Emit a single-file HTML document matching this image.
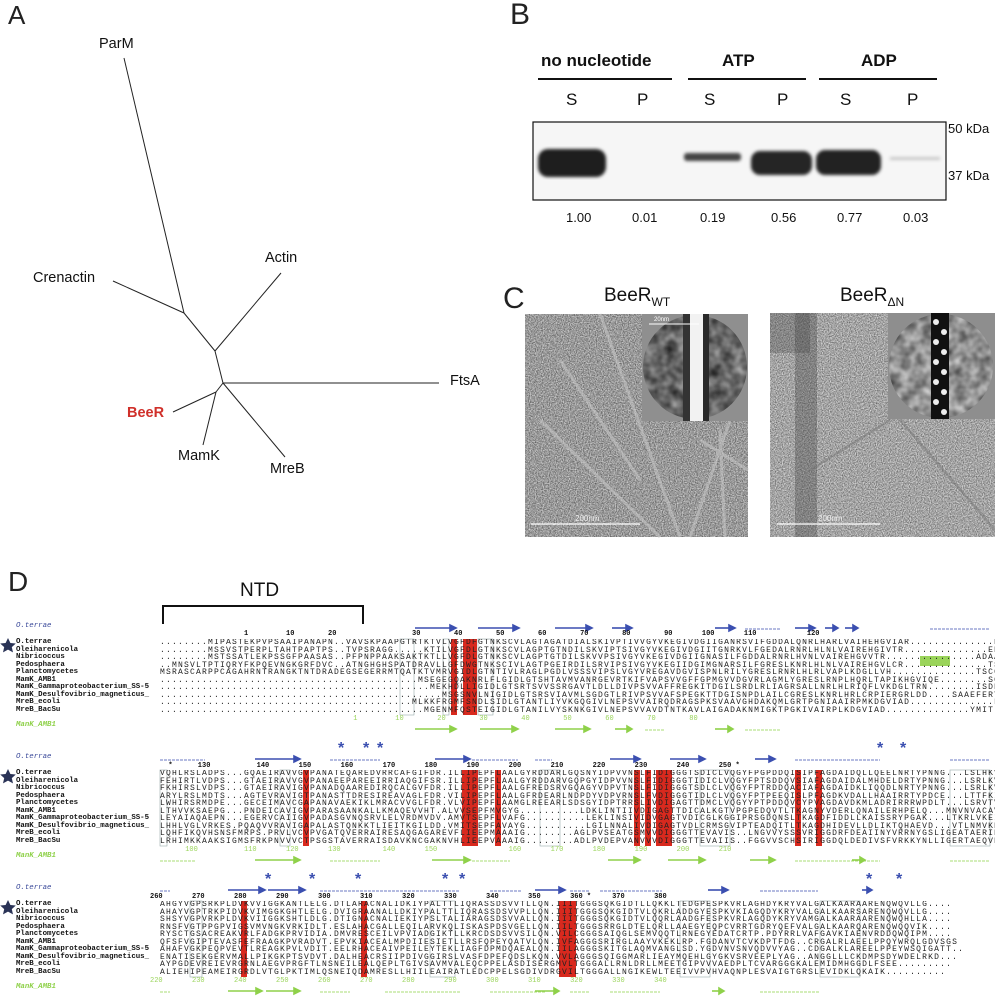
<!DOCTYPE html>
<html><head><meta charset="utf-8">
<style>
body{margin:0;background:#fff;width:995px;height:1000px;position:relative;overflow:hidden;font-family:"Liberation Sans",sans-serif;}
.a{position:absolute;white-space:pre;}
.big{font-size:26px;color:#222;}
.lbl{font-size:14.5px;color:#111;}
.hd{font-size:17px;font-weight:bold;color:#111;}
.sp{font-size:17px;color:#111;}
.num{font-size:13px;color:#111;}
.name{font-family:"Liberation Mono",monospace;font-size:7.4px;font-weight:bold;color:#111;line-height:7.5px;}
.seq{font-family:"Liberation Mono",monospace;font-size:8px;letter-spacing:1.2px;color:#222;line-height:7.5px;width:835px;overflow:hidden;}
.gn{font-family:"Liberation Mono",monospace;font-size:7.4px;font-style:italic;font-weight:bold;color:#8fd14a;}
.bn{font-family:"Liberation Mono",monospace;font-size:7.4px;font-style:italic;color:#3b4a9a;}
.nums{font-family:"Liberation Mono",monospace;font-size:7px;font-weight:bold;color:#111;}
.gnum{font-family:"Liberation Mono",monospace;font-size:7px;color:#9ad45a;}
filter{color-interpolation-filters:sRGB;}
</style></head><body>

<div class="a big" style="left:8px;top:0px;">A</div>
<svg class="a" style="left:0;top:0" width="500" height="540">
<g stroke="#222" stroke-width="1" fill="none">
<line x1="124" y1="58" x2="184" y2="313"/>
<line x1="113" y1="281" x2="184" y2="313"/>
<line x1="184" y1="313" x2="215" y2="351"/>
<line x1="281" y1="273" x2="215" y2="351"/>
<line x1="215" y1="351" x2="223" y2="383"/>
<line x1="223" y1="383" x2="439" y2="383"/>
<line x1="223" y1="383" x2="216" y2="392"/>
<line x1="216" y1="392" x2="173" y2="412"/>
<line x1="216" y1="392" x2="203" y2="445"/>
<line x1="223" y1="383" x2="285" y2="457"/>
</g></svg>
<div class="a lbl" style="left:99px;top:36px;">ParM</div>
<div class="a lbl" style="left:33px;top:270px;">Crenactin</div>
<div class="a lbl" style="left:265px;top:250px;">Actin</div>
<div class="a lbl" style="left:450px;top:373px;">FtsA</div>
<div class="a lbl" style="left:127px;top:405px;color:#d0302a;font-weight:bold;">BeeR</div>
<div class="a lbl" style="left:178px;top:448px;">MamK</div>
<div class="a lbl" style="left:270px;top:461px;">MreB</div>

<div class="a big" style="left:510px;top:-2px;font-size:30px;">B</div>
<div class="a hd" style="left:541px;top:51px;">no nucleotide</div>
<div class="a hd" style="left:722px;top:51px;">ATP</div>
<div class="a hd" style="left:861px;top:51px;">ADP</div>
<svg class="a" style="left:500px;top:0" width="495" height="240">
<g stroke="#111" stroke-width="2"><line x1="38" y1="79" x2="172" y2="79"/><line x1="188" y1="79" x2="306" y2="79"/><line x1="319" y1="79" x2="437" y2="79"/></g>
<defs><filter id="bl" color-interpolation-filters="sRGB"><feGaussianBlur stdDeviation="1.6"/></filter></defs>
<rect x="33" y="122" width="413" height="78" fill="#f6f6f6" stroke="#111" stroke-width="1.2"/>
<g filter="url(#bl)">
<rect x="38" y="149" width="68" height="28" rx="10" fill="#1e1e1e"/>
<rect x="184" y="153" width="57" height="8" rx="3" fill="#444"/>
<rect x="251" y="151" width="61" height="24" rx="9" fill="#252525"/>
<rect x="316" y="150" width="65" height="25" rx="9" fill="#222"/>
<rect x="390" y="157" width="50" height="3" fill="#c8c8c8"/>
</g></svg>
<div class="a sp" style="left:566px;top:90px;">S</div>
<div class="a sp" style="left:637px;top:90px;">P</div>
<div class="a sp" style="left:704px;top:90px;">S</div>
<div class="a sp" style="left:777px;top:90px;">P</div>
<div class="a sp" style="left:840px;top:90px;">S</div>
<div class="a sp" style="left:907px;top:90px;">P</div>
<div class="a num" style="left:948px;top:121px;">50 kDa</div>
<div class="a num" style="left:948px;top:168px;">37 kDa</div>
<div class="a num" style="left:566px;top:210px;">1.00</div>
<div class="a num" style="left:632px;top:210px;">0.01</div>
<div class="a num" style="left:700px;top:210px;">0.19</div>
<div class="a num" style="left:771px;top:210px;">0.56</div>
<div class="a num" style="left:837px;top:210px;">0.77</div>
<div class="a num" style="left:903px;top:210px;">0.03</div>

<div class="a big" style="left:503px;top:282px;font-size:30px;">C</div>
<div class="a" style="left:604px;top:285px;font-size:19px;color:#111;">BeeR<sub style="font-size:12px;">WT</sub></div>
<div class="a" style="left:840px;top:285px;font-size:19px;color:#111;">BeeR<sub style="font-size:12px;">ΔN</sub></div>
<svg class="a" style="left:0;top:0" width="995" height="545">
<defs>
<filter id="nz" x="0" y="0" width="100%" height="100%" color-interpolation-filters="sRGB"><feTurbulence type="fractalNoise" baseFrequency="0.85" numOctaves="2" seed="3"/><feColorMatrix type="matrix" values="0.8 0 0 0 0.2  0.8 0 0 0 0.2  0.8 0 0 0 0.2  0 0 0 0 1"/></filter>
<filter id="nz3" x="0" y="0" width="100%" height="100%" color-interpolation-filters="sRGB"><feTurbulence type="fractalNoise" baseFrequency="0.85" numOctaves="2" seed="9"/><feColorMatrix type="matrix" values="0.8 0 0 0 0.24  0.8 0 0 0 0.24  0.8 0 0 0 0.24  0 0 0 0 1"/></filter>
<filter id="nz2" x="0" y="0" width="100%" height="100%" color-interpolation-filters="sRGB"><feTurbulence type="fractalNoise" baseFrequency="0.09" numOctaves="2" seed="7"/><feColorMatrix type="matrix" values="1.2 0 0 0 -0.15  1.2 0 0 0 -0.15  1.2 0 0 0 -0.15  0 0 0 0 1"/></filter>
<clipPath id="c1"><circle cx="695" cy="367" r="52"/></clipPath>
<clipPath id="c2"><circle cx="941" cy="366" r="52"/></clipPath>
</defs>
<rect x="525" y="314" width="223" height="223" filter="url(#nz)"/>
<g stroke="#c4c4c4" stroke-width="3" opacity="0.6" fill="none">
<path d="M600 314 L680 537"/><path d="M540 420 L660 537"/><path d="M730 420 L690 537"/><path d="M560 360 L640 480"/><path d="M700 440 L748 470"/><path d="M720 430 L725 537"/>
</g>
<rect x="642" y="314" width="106" height="107" fill="#8f8f8f"/>
<g clip-path="url(#c1)"><rect x="642" y="314" width="106" height="107" filter="url(#nz2)"/><rect x="642" y="314" width="106" height="107" fill="#555" opacity="0.45"/></g>
<rect x="683" y="314" width="7" height="107" fill="#333"/>
<rect x="690" y="314" width="13" height="107" fill="#f2f2f2"/>
<rect x="703" y="314" width="6" height="107" fill="#2a2a2a"/>
<line x1="649" y1="324" x2="699" y2="324" stroke="#fff" stroke-width="1"/>
<line x1="531" y1="524" x2="640" y2="524" stroke="#fff" stroke-width="1.2"/>

<rect x="770" y="313" width="225" height="224" filter="url(#nz3)"/>
<rect x="795" y="313" width="22" height="224" fill="#444" opacity="0.35"/>
<rect x="770" y="313" width="40" height="40" fill="#444" opacity="0.3"/>
<g stroke="#777" stroke-width="2.5" opacity="0.5" fill="none"><path d="M810 470 L890 420"/><path d="M900 420 L995 530"/></g>
<rect x="888" y="313" width="107" height="106" fill="#8e8e8e"/>
<g clip-path="url(#c2)"><rect x="888" y="313" width="107" height="106" filter="url(#nz2)"/><rect x="888" y="313" width="107" height="106" fill="#bbb" opacity="0.4"/></g>
<rect x="931" y="313" width="18" height="106" fill="#111"/>
<g fill="#eee"><circle cx="936" cy="322" r="3"/><circle cx="944" cy="332" r="3"/><circle cx="936" cy="342" r="3"/><circle cx="944" cy="352" r="3"/><circle cx="936" cy="362" r="3"/><circle cx="944" cy="372" r="3"/><circle cx="936" cy="382" r="3"/><circle cx="944" cy="392" r="3"/><circle cx="936" cy="402" r="3"/><circle cx="944" cy="412" r="3"/></g>
<line x1="777" y1="524" x2="880" y2="524" stroke="#fff" stroke-width="1.2"/>
</svg>
<div class="a" style="left:654px;top:317px;font-size:6px;color:#fff;">20nm</div>
<div class="a" style="left:575px;top:514px;font-size:8px;color:#eee;">200nm</div>
<div class="a" style="left:818px;top:514px;font-size:8px;color:#eee;">200nm</div>

<div class="a big" style="left:8px;top:566px;font-size:28px;">D</div>
<div class="a" style="left:240px;top:580px;font-size:19px;color:#111;">NTD</div>

<svg class="a" style="left:0;top:0" width="995" height="1000">
<path d="M163 624 L163 606 L363 606 L363 624" stroke="#111" stroke-width="2" fill="none"/>
<g fill="#d8291e">
<rect x="451" y="639" width="6" height="76"/><rect x="463" y="639" width="14" height="76"/>
<rect x="303" y="770" width="6" height="76"/><rect x="462" y="770" width="16" height="76"/><rect x="495" y="770" width="6" height="76"/>
<rect x="634" y="770" width="6" height="76"/><rect x="645" y="770" width="6" height="76"/><rect x="656" y="770" width="16" height="76"/><rect x="795" y="770" width="6" height="76"/><rect x="816" y="770" width="6" height="76"/>
<rect x="241" y="901" width="6" height="76"/><rect x="361" y="901" width="6" height="76"/><rect x="559" y="901" width="17" height="76"/>
<rect x="920" y="656" width="30" height="10" fill="#9ad45a"/>
</g>
<g fill="none" stroke="#9aa" stroke-width="0.6">
<rect x="443" y="639" width="6" height="76"/><rect x="478" y="639" width="15" height="76"/><rect x="400" y="639" width="14" height="76"/>
<rect x="160" y="770" width="7" height="76"/><rect x="280" y="770" width="10" height="76"/><rect x="540" y="770" width="20" height="76"/><rect x="700" y="770" width="30" height="76"/><rect x="950" y="770" width="40" height="76"/>
<rect x="190" y="901" width="12" height="76"/><rect x="430" y="901" width="25" height="76"/><rect x="680" y="901" width="30" height="76"/><rect x="820" y="901" width="40" height="76"/>
</g>
<g stroke="#3b4fb0" stroke-width="1.6" fill="#3b4fb0">
<line x1="415" y1="628" x2="452" y2="628"/><path d="M456 628 l-6 -3 v6z"/>
<line x1="478" y1="628" x2="515" y2="628"/><path d="M519 628 l-6 -3 v6z"/>
<line x1="555" y1="628" x2="588" y2="628"/><path d="M592 628 l-6 -3 v6z"/>
<line x1="612" y1="628" x2="628" y2="628"/><path d="M632 628 l-6 -3 v6z"/>
<line x1="715" y1="628" x2="731" y2="628"/><path d="M735 628 l-6 -3 v6z"/>
<line x1="795" y1="628" x2="811" y2="628"/><path d="M815 628 l-6 -3 v6z"/>
<line x1="825" y1="628" x2="834" y2="628"/><path d="M838 628 l-5 -3 v6z"/>
<line x1="845" y1="628" x2="854" y2="628"/><path d="M858 628 l-5 -3 v6z"/>
<line x1="255" y1="759" x2="296" y2="759"/><path d="M300 759 l-6 -3 v6z"/>
<line x1="435" y1="759" x2="466" y2="759"/><path d="M470 759 l-6 -3 v6z"/>
<line x1="610" y1="759" x2="636" y2="759"/><path d="M640 759 l-6 -3 v6z"/>
<line x1="670" y1="759" x2="701" y2="759"/><path d="M705 759 l-6 -3 v6z"/>
<line x1="755" y1="759" x2="771" y2="759"/><path d="M775 759 l-6 -3 v6z"/>
<line x1="228" y1="890" x2="261" y2="890"/><path d="M265 890 l-6 -3 v6z"/>
<line x1="268" y1="890" x2="301" y2="890"/><path d="M305 890 l-6 -3 v6z"/>
<line x1="535" y1="890" x2="561" y2="890"/><path d="M565 890 l-6 -3 v6z"/>
<line x1="708" y1="890" x2="724" y2="890"/><path d="M728 890 l-6 -3 v6z"/>
<line x1="862" y1="890" x2="868" y2="890"/><path d="M872 890 l-5 -3 v6z"/>
</g>
<g stroke="#3b4fb0" stroke-width="0.8" fill="none" stroke-dasharray="3 1">
<line x1="745" y1="629" x2="780" y2="629"/><line x1="930" y1="629" x2="990" y2="629"/>
<line x1="160" y1="760" x2="205" y2="760"/><line x1="330" y1="760" x2="380" y2="760"/><line x1="472" y1="760" x2="518" y2="760"/><line x1="535" y1="760" x2="552" y2="760"/><line x1="795" y1="760" x2="880" y2="760"/><line x1="950" y1="760" x2="990" y2="760"/>
<line x1="160" y1="891" x2="170" y2="891"/><line x1="320" y1="891" x2="460" y2="891"/><line x1="490" y1="891" x2="522" y2="891"/><line x1="570" y1="891" x2="590" y2="891"/><line x1="600" y1="891" x2="662" y2="891"/><line x1="760" y1="891" x2="818" y2="891"/>
</g>
<g stroke="#8fd14a" stroke-width="1.6" fill="#8fd14a">
<line x1="415" y1="729" x2="452" y2="729"/><path d="M456 729 l-6 -3 v6z"/>
<line x1="480" y1="729" x2="514" y2="729"/><path d="M518 729 l-6 -3 v6z"/>
<line x1="555" y1="729" x2="586" y2="729"/><path d="M590 729 l-6 -3 v6z"/>
<line x1="615" y1="729" x2="628" y2="729"/><path d="M632 729 l-5 -3 v6z"/>
<line x1="715" y1="729" x2="729" y2="729"/><path d="M733 729 l-5 -3 v6z"/>
<line x1="255" y1="860" x2="296" y2="860"/><path d="M300 860 l-6 -3 v6z"/>
<line x1="432" y1="860" x2="466" y2="860"/><path d="M470 860 l-6 -3 v6z"/>
<line x1="608" y1="860" x2="636" y2="860"/><path d="M640 860 l-6 -3 v6z"/>
<line x1="668" y1="860" x2="701" y2="860"/><path d="M705 860 l-6 -3 v6z"/>
<line x1="750" y1="860" x2="771" y2="860"/><path d="M775 860 l-6 -3 v6z"/>
<line x1="852" y1="860" x2="861" y2="860"/><path d="M865 860 l-5 -3 v6z"/>
<line x1="228" y1="991" x2="258" y2="991"/><path d="M262 991 l-6 -3 v6z"/>
<line x1="266" y1="991" x2="296" y2="991"/><path d="M300 991 l-6 -3 v6z"/>
<line x1="535" y1="991" x2="555" y2="991"/><path d="M559 991 l-5 -3 v6z"/>
<line x1="712" y1="991" x2="720" y2="991"/><path d="M724 991 l-5 -3 v6z"/>
</g>
<g stroke="#8fd14a" stroke-width="0.8" fill="none" stroke-dasharray="3 1">
<line x1="645" y1="730" x2="665" y2="730"/><line x1="745" y1="730" x2="780" y2="730"/>
<line x1="160" y1="861" x2="195" y2="861"/><line x1="330" y1="861" x2="380" y2="861"/><line x1="472" y1="861" x2="510" y2="861"/><line x1="795" y1="861" x2="880" y2="861"/><line x1="950" y1="861" x2="990" y2="861"/>
<line x1="160" y1="992" x2="170" y2="992"/><line x1="320" y1="992" x2="350" y2="992"/><line x1="385" y1="992" x2="460" y2="992"/><line x1="490" y1="992" x2="545" y2="992"/><line x1="570" y1="992" x2="590" y2="992"/><line x1="610" y1="992" x2="660" y2="992"/><line x1="760" y1="992" x2="820" y2="992"/>
</g>
<g fill="#2a3356">
<path d="M8 638 l2.4 5 5.4 .5 -4 3.6 1.2 5.3 -5 -2.8 -5 2.8 1.2 -5.3 -4 -3.6 5.4 -.5z"/>
<path d="M8 769 l2.4 5 5.4 .5 -4 3.6 1.2 5.3 -5 -2.8 -5 2.8 1.2 -5.3 -4 -3.6 5.4 -.5z"/>
<path d="M8 900 l2.4 5 5.4 .5 -4 3.6 1.2 5.3 -5 -2.8 -5 2.8 1.2 -5.3 -4 -3.6 5.4 -.5z"/>
</g>
</svg>
<div class="a" style="left:338px;top:740px;font-size:16px;color:#3b4fb0;font-weight:bold;">*</div>
<div class="a" style="left:363px;top:740px;font-size:16px;color:#3b4fb0;font-weight:bold;">*</div>
<div class="a" style="left:377px;top:740px;font-size:16px;color:#3b4fb0;font-weight:bold;">*</div>
<div class="a" style="left:877px;top:740px;font-size:16px;color:#3b4fb0;font-weight:bold;">*</div>
<div class="a" style="left:900px;top:740px;font-size:16px;color:#3b4fb0;font-weight:bold;">*</div>
<div class="a" style="left:265px;top:871px;font-size:16px;color:#3b4fb0;font-weight:bold;">*</div>
<div class="a" style="left:309px;top:871px;font-size:16px;color:#3b4fb0;font-weight:bold;">*</div>
<div class="a" style="left:355px;top:871px;font-size:16px;color:#3b4fb0;font-weight:bold;">*</div>
<div class="a" style="left:442px;top:871px;font-size:16px;color:#3b4fb0;font-weight:bold;">*</div>
<div class="a" style="left:459px;top:871px;font-size:16px;color:#3b4fb0;font-weight:bold;">*</div>
<div class="a" style="left:866px;top:871px;font-size:16px;color:#3b4fb0;font-weight:bold;">*</div>
<div class="a" style="left:896px;top:871px;font-size:16px;color:#3b4fb0;font-weight:bold;">*</div>

<div class="a bn" style="left:16px;top:622px;">O.terrae</div>
<div class="a nums" style="left:160px;top:630px;width:835px;overflow:hidden;">                    1         10        20                  30        40        50        60        70        80        90       100       110            120</div>
<div class="a name" style="left:16px;top:639px;">O.terrae
Oleiharenicola
Nibricoccus
Pedosphaera
Planctomycetes
MamK_AMB1
MamK_Gammaproteobacterium_SS-5
MamK_Desulfovibrio_magneticus_
MreB_ecoli
MreB_BacSu</div>
<div class="a seq" style="left:160px;top:639px;">........MIPASTEKPVPSAAIPANAPN..VAVSKPAAPGTRTKTVLVGFDFGTNKSCVLAGTAGATDIALSKIVPTIVVGYVKEGIVDGIIGANRSVIFGDDALQNRLHARLVAIHEHGVIAR..............PDAARDF
........MSSVSTPERPLTAHTPAPTPS..TVPSRAGG.....KTILVGFDLGTNKSCVLAGPTGTNDILSKVIPTSIVGYVKEGIVDGIITGNRKVLFGEDALRNRLHLNLVAIREHGIVTR..............EHAARDF
........MSTSSATLEKPSSGFPAASAS..PFPNPPAAKSAKTKTLLVGFDLGTNKSCVLAGPTGTDILSKVVPSIVGYVKEGIVDGIIGNASILFGDDALRNRLHVNLVAIREHGVVTR...............ADAARDL
..MNSVLTPTIQRYFKPQEVNGKGRFDVC..ATNGHGHSPATDRAVLLGFDWGTNKSCIVLAGTPGEIRDILSRVIPSIVGYVKEGIIDGIMGNARSILFGRESLKNRLHLNLVAIREHGVLCR..............TSCCRDF
MSRASCARPPCAGAHRNTRANGKTNTDRADEGSEGERRMTQATKTVMRVGIDLGTNTIVLRAGLPGDLVSSSVIPSLVGYVREGAVDGVISPNLRILYGRESLRNRLHLRLVAPLKDGLLVH..............TSCCRDF
...........................................MSEGEGQAKNRLFLGIDLGTSHTAVMVANRGEVRTKIFVAPSVVGFFGPMGVVDGVRLAGMLYGRESLRNPLHQRLTAPIKHGVIQE........SGDQ..DTARKL
.............................................MEKHDLLIGIDLGTSRTSVVSSRGAVTLDLLDIVPSVVAFFREGKITDGILSRDLRLIAGRSALLNRLHLRIQFLVKDGLTRN........ISDRDIEVARRL
...............................................MSGSNVLNIGIDLGTSRSVIAVMLSGDGTLRIVPSVVAFSPEGKTTDGISNPDLAILCGRESLKNRLHRLCRPIERGRLDD....SAAEFERYKGFAEDL
..........................................MLKKFRGMFSNDLSIDLGTANTLIYVKGQGIVLNEPSVVAIRQDRAGSPKSVAAVGHDAKQMLGRTPGNIAAIRPMKDGVIAD..............FFVTEKM
............................................MGENMFQSTEIGIDLGTANILVYSKNKGIVLNEPSVVAVDTNTKAVLAIGADAKNMIGKTPGKIVAIRPLKDGVIAD..............YMITLQL</div>
<div class="a gnum" style="left:160px;top:715px;">                                              1         10        20        30        40        50        60        70        80</div>
<div class="a gn" style="left:16px;top:721px;">ManK_AMB1</div>

<div class="a bn" style="left:16px;top:753px;">O.terrae</div>
<div class="a nums" style="left:160px;top:762px;">  *      130           140       150       160       170       180       190       200       210       220       230       240       250 *</div>
<div class="a name" style="left:16px;top:770px;">O.terrae
Oleiharenicola
Nibricoccus
Pedosphaera
Planctomycetes
MamK_AMB1
MamK_Gammaproteobacterium_SS-5
MamK_Desulfovibrio_magneticus_
MreB_ecoli
MreB_BacSu</div>
<div class="a seq" style="left:160px;top:770px;">VQHLRSLADPS...GQAEIRAVVGVPANATEQAREDVRRCAFGIFDR.ILLIPEPFLAALGYRDDARLGQSNYIDPVVNSLFIDIGGGTSDICLVQGYFPGPDDQISIPFAGDAIDQLLQEELNRTYPNNG...LSLHKVREIKE
FEHIRTLVDPS...GTAEIRAVVGVPANAEEPAREEIRRIAQGIFSR.ILLIPEPFLAALGYRDDARVGQPGYIDPVVNSLFIDIGGGTIDICLVQGYFPTSDDQVSIAFAGDAIDALMHDELDRTYPNNG...LSRLKVREIKE
FKHIRSLVDPS...GTAEIRAVIGVPANADQAAREDIRQCALGVFDR.ILLIPEPFLAALGFREDSRVGQAGYVDPVTNSLFIDIGGGTSDLCLVQGYFPTRDDQACIAFAGDAIDKLIQQDLNRTYPNNG...LSRLKVRELKE
ARYLRSLMDTS...AGTEVRAVIGTPANASTTDRESIREAVAGLFDR.VILIPEPFLAALGFRDEARLNDPDYVDPVRNSLFVDIGGGTIDLCLVQGYFPTPEEQISLPFAGDKVDALLHAAIRRTYPDCE...LTTFKIRELKE
LWHIRSRMDPE...GECEIMAVCGAPANAVAEKIKLMRACVVGLFDR.VLVIPEPFLAAMGLREEARLSDSGYIDPTRRSLIVDIGAGTTDMCLVQGYYPTPDDQVCYPVAGDAVDKMLADRIRRRWPDLT...LSRVTVTQLKE
LTHVVKSAEPG...PNDEICAVIGVPARASAANKALLKMAQEVVHT.ALVVSEPFMVGYG..........LDKLINTIIVDIGAGTTDICALKGTVPGPEDQVTLTKAGNYVDERLQNAILERHPELQ...MNVNVACAVKE
LEYAIAQAEPN...EGERVCAIIGVPADASGVNQSRVLELVRDMVDV.AMVTSEPFLVAFG..........LEKLINSIVIDVGAGTVDICGLKGGIPRSGDQNSLTKAGDFIDDLLKAISSRYPGAK...LTKRLVKEIKE
LHHLVGLVRKES.PQAQVVRAVIGAPALASTQNKKTLIEITKGILDD.VMITSEPFAVAYG..........LGILNNALIVDIGAGTVDLCRMSGVIPTEADQITLTKAGDHIDEVLLDLIKTQHAEVD...VTLNMVKRVKE
LQHFIKQVHSNSFMRPS.PRVLVCVPVGATQVERRAIRESAQGAGAREVFLIEEPMAAAIG........AGLPVSEATGSMVVDIGGGTTEVAVIS..LNGVVYSSSVRIGGDRFDEAIINYVRRNYGSLIGEATAERIKHEIGS
LRHIMKKAAKSIGMSFRKPNVVVCTPSGSTAVERRAISDAVKNCGAKNVHLIEEPVAAAIG........ADLPVDEPVANVVVDIGGGTTEVAIIS..FGGVVSCHSIRIGGDQLDEDIVSFVRKKYNLLIGERTAEQVKMEIGH</div>
<div class="a gnum" style="left:160px;top:846px;">      100           110       120       130          140       150                 160       170       180       190       200       210</div>
<div class="a gn" style="left:16px;top:852px;">ManK_AMB1</div>

<div class="a bn" style="left:16px;top:884px;">O.terrae</div>
<div class="a nums" style="left:150px;top:893px;">260       270       280       290       300       310       320       330       340       350       360 *     370       380</div>
<div class="a name" style="left:16px;top:901px;">O.terrae
Oleiharenicola
Nibricoccus
Pedosphaera
Planctomycetes
MamK_AMB1
MamK_Gammaproteobacterium_SS-5
MamK_Desulfovibrio_magneticus_
MreB_ecoli
MreB_BacSu</div>
<div class="a seq" style="left:160px;top:901px;">AHGYVGPSRKPLDVKVVIGGKANTLELG.DTLARACNALIDKIYPALTTLIQRASSDSVVTLLQN.IIITGGGSQKGIDTLLQKKLTEDGPESPKVRLAGHDYKRYVALGALKAARAARENQWQVLLG....
AHAYVGPTRKPIDVKVIMGGKGHTLELG.DVIGRAANALLDKIYPALTTLIQRASSDSVVPLLQN.IIITGGGSQKGIDTVLQKRLADDGYESPKVKIAGQDYKRYVALGALKAARSARENQWQVLLG....
SHSYVGPVRKPLDVKVIIGGKSHTLDLG.DTIGNACNALIEKIYPSLTALIARAGSDSVVALLQN.IIITGGGSQKGIDTVLQQRLAADGFESPKVRLAGQDYKRYVAMGALKAARAARENQWQHLLA....
RNSFVGTPPGPVIGSVMVNGKVRKIDLT.ESLAHACGALLEQILARVKQLISKASPDSVGELLQN.IILTGGGSRRGLDTELQRLLAAEGYEQPCVRRTGDRYQEFVALGALKAARQARENQWQQVIK....
RYSCTGSACREAKVRLFADGKPRVIDIA.DMVRESCEILVPVIADGIKTLLKRCDSDSVVSILQN.VILCGGGSAIQGLSEMVQQTLRNEGYEDATCRTP.PDYRRLVAFGAVKIAENVRDDQWQIPM....
QFSFVGIPTEVASFEFRAAGKPVRADVT.EPVKIACEALMPDIIESIETLLRSFQPEYQATVLQN.IVFAGGGSRIRGLAAYVKEKLRP.FGDANVTCVKDPTFDG..CRGALRLAEELPPQYWRQLGDVSGS
AHAFVGKPEQPVEVTLREAGKPVLVDIT.EELRHACEAIVPEILEYTEKLIAGFDPMDQAEALQN.IILAGGGSKITGLAQMVANGLSD.YGDVNVSNVQDVVYAG..CDGALKLAREELPPEYWSQIGATT..
ENATISEKGERVMALLPIKGKPTSVDVT.DALHEACRSIIPDIVGGIRSLVASFDPEFQDSLKQN.VVLAGGGSQIGGMARLIEAYMQEHLGYGKVSRVEEPLYAG..ANGGLLLCKDMPSDYWDELRKD...
AYPGDEVREIEVRGRNLAEGVPRGFTLNSNEILEALQEPLTGIVSAVMVALEQCPPELASDISERGMVLTGGGALLRNLDRLLMEETGIPVVVAEDPLTCVARGGGKALEMIDMHGGDLFSEE.........
ALIEHIPEAMEIRGRDLVTGLPKTIMLQSNEIQDAMRESLLHIILEAIRATLEDCPPELSGDIVDRGVILTGGGALLNGIKEWLTEEIVVPVHVAQNPLESVAIGTGRSLEVIDKLQKAIK..........</div>
<div class="a gnum" style="left:150px;top:977px;">220       230       240       250       260       270       280       290       300       310       320       330       340</div>
<div class="a gn" style="left:16px;top:983px;">ManK_AMB1</div>
</body></html>
